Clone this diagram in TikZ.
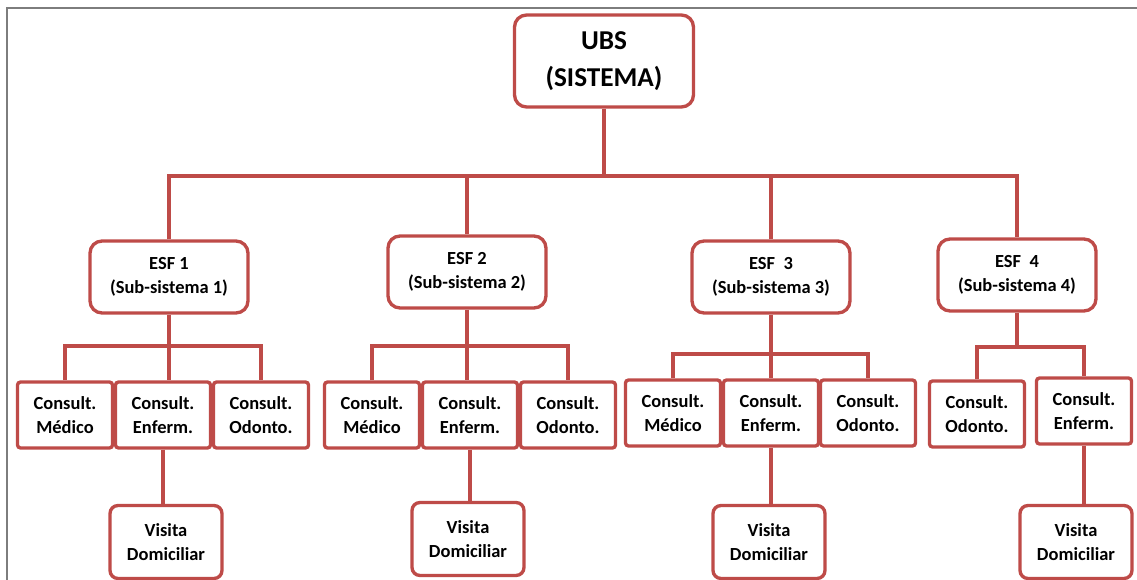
\documentclass[tikz,border=0pt]{standalone}
\usepackage{fontspec}
\setmainfont{Carlito}
\usepackage{xcolor}
\definecolor{org}{RGB}{190, 75, 72}
\definecolor{frm}{RGB}{125, 125, 125}
\tikzset{
  box/.style={draw=org, line width=1.9pt, fill=white, inner sep=0pt, align=center,
    font=\fontsize{10.5}{14}\selectfont\bfseries},
  ubsbox/.style={box, rounded corners=0.24cm, minimum width=3.58cm, minimum height=1.84cm,
    font=\fontsize{15.5}{21}\selectfont\bfseries},
  esfbox/.style={box, rounded corners=0.24cm, minimum width=3.16cm, minimum height=1.44cm},
  conbox/.style={box, rounded corners=0.06cm, minimum width=1.9cm, minimum height=1.32cm},
  visbox/.style={box, rounded corners=0.16cm, minimum width=2.24cm, minimum height=1.46cm},
  link/.style={draw=org, line width=2pt}
}
\begin{document}
\begin{tikzpicture}[x=0.02cm, y=-0.02cm]
  \useasboundingbox (0,0) rectangle (1137,580);
  \draw[color=frm, line width=0.6pt] (7,580) -- (7,8) -- (1137,8);

  % levels
  \coordinate(top) at (0,176);
  \coordinate(b1) at (0,346);
  \coordinate(b2) at (0,346);
  \coordinate(b3) at (0,354);
  \coordinate(b4) at (0,347);

  \node[ubsbox](ubs) at (604, 61) {UBS\\(SISTEMA)};

  \node[esfbox](esf1) at (169, 277) {ESF 1\\(Sub-sistema 1)};
  \node[esfbox](esf2) at (467, 272) {ESF 2\\(Sub-sistema 2)};
  \node[esfbox](esf3) at (771, 277) {ESF\ \ 3\\(Sub-sistema 3)};
  \node[esfbox](esf4) at (1017, 275) {ESF\ \ 4\\(Sub-sistema 4)};

  \node[conbox](med1) at (65, 415) {Consult.\\Médico};
  \node[conbox](enf1) at (163, 415) {Consult.\\Enferm.};
  \node[conbox](odo1) at (261, 415) {Consult.\\Odonto.};
  \node[visbox](vis1) at (166, 542) {Visita\\Domiciliar};

  \node[conbox](med2) at (372, 415) {Consult.\\Médico};
  \node[conbox](enf2) at (470, 415) {Consult.\\Enferm.};
  \node[conbox](odo2) at (568, 415) {Consult.\\Odonto.};
  \node[visbox](vis2) at (468, 539) {Visita\\Domiciliar};

  \node[conbox](med3) at (673, 413) {Consult.\\Médico};
  \node[conbox](enf3) at (771, 413) {Consult.\\Enferm.};
  \node[conbox](odo3) at (868, 413) {Consult.\\Odonto.};
  \node[visbox](vis3) at (769, 542) {Visita\\Domiciliar};

  \node[conbox](odo4) at (977, 414) {Consult.\\Odonto.};
  \node[conbox](enf4) at (1084, 411) {Consult.\\Enferm.};
  \node[visbox](vis4) at (1076, 542) {Visita\\Domiciliar};

  % top level
  \draw[link] (ubs.south) -- (ubs.south |- top);
  \draw[link] (esf1.north) -- (esf1.north |- top) -- (esf4.north |- top) -- (esf4.north);
  \draw[link] (esf2.north) -- (esf2.north |- top);
  \draw[link] (esf3.north) -- (esf3.north |- top);

  % sub-systems
  \draw[link] (med1.north) -- (med1.north |- b1) -- (odo1.north |- b1) -- (odo1.north);
  \draw[link] (esf1.south) -- (esf1.south |- enf1.north);
  \draw[link] (enf1.south) -- (enf1.south |- vis1.north);

  \draw[link] (med2.north) -- (med2.north |- b2) -- (odo2.north |- b2) -- (odo2.north);
  \draw[link] (esf2.south) -- (esf2.south |- enf2.north);
  \draw[link] (enf2.south) -- (enf2.south |- vis2.north);

  \draw[link] (med3.north) -- (med3.north |- b3) -- (odo3.north |- b3) -- (odo3.north);
  \draw[link] (esf3.south) -- (enf3.north);
  \draw[link] (enf3.south) -- (enf3.south |- vis3.north);

  \draw[link] (odo4.north) -- (odo4.north |- b4) -- (enf4.north |- b4) -- (enf4.north);
  \draw[link] (esf4.south) -- (esf4.south |- b4);
  \draw[link] (enf4.south) -- (enf4.south |- vis4.north);
\end{tikzpicture}
\end{document}
